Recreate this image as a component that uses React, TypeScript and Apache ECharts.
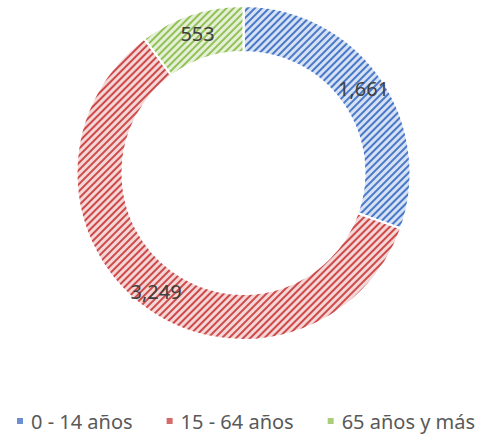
import React, { useEffect, useRef } from "react";
import * as echarts from "echarts";

const categories = ["0 - 14 años", "15 - 64 años", "65 años y más"];
const values = [1661, 3249, 553];
const stripeColors = ["#4a78c8", "#cc4a4a", "#92c155"];
const backColors = ["#d6e2f4", "#f5d6d6", "#e6f0d9"];
const legendColors = ["#6b8fd0", "#d46a6a", "#a9cd7b"];

export default function App() {
  const ref = useRef<HTMLDivElement>(null);
  useEffect(() => {
    if (!ref.current) return;
    const chart = echarts.init(ref.current, undefined, { renderer: "svg" });
    const data = categories.map((name, i) => ({
      name,
      value: values[i],
      itemStyle: {
        color: backColors[i],
        decal: {
          symbol: "rect",
          symbolSize: 1,
          color: stripeColors[i],
          dashArrayX: [1, 0],
          dashArrayY: [1.2, 2.5],
          rotation: -Math.PI / 4,
        },
      },
    }));
    chart.setOption({
      animation: false,
      aria: { enabled: false },
      legend: {
        left: 10,
        top: 406,
        itemWidth: 8,
        itemHeight: 8,
        itemGap: 32,
        icon: "rect",
        textStyle: { color: "#595959", fontSize: 20, fontFamily: "Noto Sans", padding: [0, 0, 0, 2] },
        data: categories.map((name, i) => ({ name, itemStyle: { color: legendColors[i], decal: "none" } })),
      },
      series: [
        {
          type: "pie",
          center: [243.5, 173],
          radius: [121, 167],
          startAngle: 90,
          clockwise: true,
          avoidLabelOverlap: false,
          itemStyle: { borderColor: "#ffffff", borderWidth: 2 },
          label: {
            show: true,
            position: "inside",
            color: "#404040",
            fontSize: 20,
            fontFamily: "Noto Sans",
            formatter: (p: any) => Number(p.value).toLocaleString("en-US"),
          },
          labelLine: { show: false },
          emphasis: { disabled: true },
          data,
        },
      ],
    });
    return () => chart.dispose();
  }, []);
  return (
    <div
      ref={ref}
      style={{ position: "fixed", left: 0, top: 0, width: 488, height: 436, background: "#ffffff" }}
    />
  );
}
